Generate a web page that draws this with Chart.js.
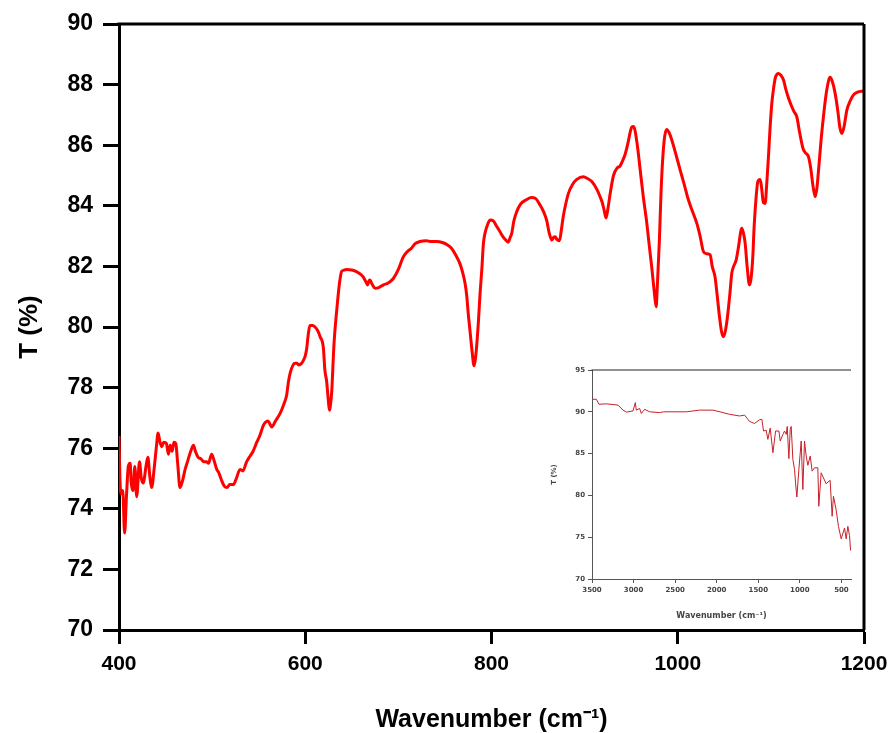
<!DOCTYPE html>
<html>
<head>
<meta charset="utf-8">
<script src="https://cdn.jsdelivr.net/npm/chart.js@4"></script>
<style>
  html, body { margin: 0; padding: 0; background: #fff; }
  #wrap { position: relative; width: 893px; height: 733px; }
  #main { position: absolute; left: 0; top: 0; }
  #inset { position: absolute; left: 540px; top: 360px; }
</style>
</head>
<body>
<div id="wrap">
  <canvas id="main" width="893" height="733"></canvas>
  <canvas id="inset" width="325" height="265"></canvas>
</div>
<script>
// ── Data: main spectrum (400–1200 cm-1) ────────────────────
const waveMain = [
  400, 401, 402, 404, 406, 408, 410, 412, 413, 415, 417, 419, 422, 424, 426, 429, 431, 433, 435, 438,
  440, 442, 444, 446, 448, 451, 453, 455, 457, 459, 461, 463, 465.5, 468, 471, 474, 477, 480, 482, 485,
  488, 491, 494, 496, 499.5, 502, 505, 507, 510, 513, 516, 519, 523, 526, 530, 533, 537, 541, 544, 548,
  551, 555, 557, 560, 562, 564, 568, 573, 577, 580, 582, 584, 587, 589, 591, 593, 596, 598, 600, 601.6,
  603, 605, 608, 610.5, 613, 616, 619.5, 621, 623, 625, 626, 627, 628.5, 630, 631, 634.5, 637, 639, 642, 644.6,
  650, 655, 659, 662, 665, 667, 669, 670, 672, 675, 679, 684, 689, 694.6, 700, 705, 709, 714, 718, 723,
  730, 735, 741, 748, 752, 757, 762, 766, 769, 771.6, 773.5, 775, 777, 779, 781.3, 782.5, 784, 786, 787.7, 789.6,
  791.3, 793, 796, 798.5, 802, 805, 809, 813, 816, 818, 820, 821.8, 824, 827, 831, 838, 843, 847, 852, 856,
  859.4, 862, 864.8, 866.5, 868.3, 870, 873, 875, 877, 880, 882.6, 887, 891.6, 898.7, 903, 907.7, 913, 916.6, 919, 921,
  923, 925, 927.4, 931, 935, 938, 941, 943.5, 946, 950.7, 952.5, 954, 957, 959.6, 963, 966.8, 969, 972, 975, 976.8,
  978, 980.3, 982, 984, 986, 988.2, 991, 993.6, 998, 1002.6, 1007, 1011.5, 1016, 1020.5, 1024, 1027.6, 1031, 1034.8, 1037, 1040,
  1042.5, 1044.8, 1047, 1049, 1051, 1053.4, 1056, 1058, 1060, 1062.7, 1065, 1068.8, 1070.5, 1072.4, 1074.5, 1077, 1078.7, 1080.6, 1082, 1084.2,
  1086, 1088.5, 1090, 1092, 1093.9, 1095.5, 1097.4, 1099, 1101, 1103, 1105, 1108.2, 1111, 1113.6, 1116, 1119, 1122.5, 1125, 1127.8, 1131,
  1134.4, 1137, 1140.4, 1143, 1145, 1147.6, 1149.5, 1151.2, 1154, 1157, 1160, 1163.6, 1166, 1169, 1172, 1174, 1176.2, 1178.5, 1181.6, 1185,
  1188.7, 1193, 1199.5
];
const tMain = [
  76.4, 75.0, 74.5, 74.6, 73.2, 74.4, 75.4, 75.5, 74.9, 74.6, 75.4, 74.4, 75.55, 75.0, 74.85, 75.4, 75.7, 75.1, 74.7, 75.4,
  76.0, 76.5, 76.2, 76.05, 76.2, 76.15, 75.8, 76.1, 75.9, 76.2, 76.15, 75.5, 74.7, 74.9, 75.3, 75.6, 75.9, 76.1, 75.9, 75.7,
  75.65, 75.55, 75.55, 75.5, 75.8, 75.6, 75.3, 75.2, 74.95, 74.75, 74.7, 74.8, 74.8, 75.0, 75.3, 75.25, 75.55, 75.75, 75.9, 76.2,
  76.4, 76.75, 76.85, 76.9, 76.8, 76.7, 76.9, 77.15, 77.45, 77.75, 78.2, 78.5, 78.75, 78.8, 78.8, 78.75, 78.8, 78.9, 79.05, 79.3,
  79.7, 80.05, 80.05, 80.0, 79.9, 79.68, 79.3, 78.6, 78.2, 77.5, 77.25, 77.4, 77.9, 78.9, 79.5, 80.78, 81.5, 81.83, 81.88, 81.9,
  81.88, 81.83, 81.75, 81.66, 81.5, 81.39, 81.55, 81.53, 81.4, 81.28, 81.3, 81.39, 81.45, 81.6, 81.9, 82.3, 82.47, 82.6, 82.75, 82.82,
  82.85, 82.82, 82.82, 82.78, 82.72, 82.6, 82.35, 82.1, 81.8, 81.44, 81.0, 80.45, 79.85, 79.24, 78.72, 78.9, 79.35, 80.2, 81.1, 81.9,
  82.75, 83.09, 83.4, 83.53, 83.5, 83.35, 83.15, 82.95, 82.85, 82.8, 82.95, 83.1, 83.5, 83.8, 84.05, 84.21, 84.27, 84.25, 84.03, 83.8,
  83.5, 83.1, 82.87, 82.95, 82.98, 82.9, 82.85, 83.2, 83.64, 84.1, 84.41, 84.7, 84.87, 84.96, 84.9, 84.8, 84.55, 84.3, 84.1, 83.85,
  83.6, 83.9, 84.4, 85.0, 85.25, 85.31, 85.5, 85.7, 86.0, 86.6, 86.62, 86.5, 85.9, 85.2, 84.3, 83.42, 82.8, 81.99, 81.1, 80.67,
  81.3, 82.87, 84.4, 85.62, 86.3, 86.52, 86.4, 86.17, 85.7, 85.18, 84.7, 84.19, 83.8, 83.42, 83.0, 82.49, 82.42, 82.38, 82.0, 81.66,
  81.0, 80.34, 79.85, 79.68, 79.85, 80.34, 81.1, 81.77, 82.0, 82.21, 82.6, 83.26, 83.1, 82.76, 82.0, 81.39, 81.6, 82.32, 83.3, 84.3,
  84.8, 84.87, 84.6, 84.1, 84.08, 84.7, 85.62, 86.5, 87.38, 87.9, 88.25, 88.37, 88.3, 88.15, 87.85, 87.55, 87.27, 87.1, 86.94, 86.4,
  85.9, 85.75, 85.62, 85.2, 84.7, 84.3, 84.6, 85.18, 86.2, 87.1, 87.82, 88.24, 88.1, 87.71, 87.1, 86.6, 86.39, 86.6, 87.16, 87.45,
  87.66, 87.75, 87.79
];
const xTicksMain = [400, 600, 800, 1000, 1200];
const yTicksMain = [70, 72, 74, 76, 78, 80, 82, 84, 86, 88, 90];

// ── Data: inset, full range (3500–400 cm-1) ────────────────
const waveInset = [
  3500, 3448, 3416, 3328, 3187, 3127, 3087, 3007, 2979, 2967, 2927, 2907, 2867, 2807, 2687, 2639, 2366, 2206, 2046, 1946,
  1846, 1725, 1665, 1605, 1545, 1485, 1457, 1437, 1405, 1385, 1357, 1324, 1292, 1252, 1236, 1204, 1184, 1164, 1152, 1132,
  1116, 1104, 1084, 1064, 1052, 1036, 1012, 984, 964, 944, 924, 904, 876, 852, 824, 784, 772, 744, 684, 636,
  612, 596, 564, 536, 503, 463, 443, 423, 403, 390
];
const tInset = [
  91.5, 91.5, 90.9, 90.95, 90.8, 90.2, 89.96, 90.1, 91.1, 90.2, 90.4, 89.8, 90.3, 90.0, 89.9, 90.0, 90.0, 90.2, 90.2, 89.96,
  89.7, 89.5, 89.6, 88.85, 88.6, 89.05, 89.1, 87.7, 87.8, 86.7, 88.05, 85.1, 87.7, 87.7, 86.5, 87.3, 87.7, 87.3, 88.25, 84.4,
  87.9, 88.25, 84.3, 83.1, 81.5, 79.8, 83.1, 86.5, 80.7, 86.5, 84.7, 83.6, 84.7, 82.9, 83.3, 83.3, 78.7, 82.7, 81.4, 81.8,
  77.5, 79.9, 78.3, 76.3, 74.8, 76.1, 74.8, 76.3, 75.2, 73.4
];
const xTicksInset = [3500, 3000, 2500, 2000, 1500, 1000, 500];
const yTicksInset = [70, 75, 80, 85, 90, 95];

// ── Helpers ────────────────────────────────────────────────
function toPoints(xs, ys) {
  return xs.map((x, i) => ({ x, y: ys[i] }));
}

function fixTicks(values) {
  return (scale) => { scale.ticks = values.map((v) => ({ value: v })); };
}

const plain = (v) => String(v); // no thousands separator

// draws the remaining sides of the frame
function frame(width, color, sides) {
  return {
    id: "frame",
    afterDraw(chart) {
      const { ctx, chartArea: a } = chart;
      ctx.save();
      ctx.strokeStyle = color;
      ctx.lineWidth = width;
      ctx.beginPath();
      if (sides.includes("top"))   { ctx.moveTo(a.left - width / 2, a.top); ctx.lineTo(a.right, a.top); }
      if (sides.includes("right")) { ctx.moveTo(a.right, a.top); ctx.lineTo(a.right, a.bottom); }
      ctx.stroke();
      ctx.restore();
    },
  };
}

const BOLD = "'Liberation Sans', Arial, sans-serif";
const SMALL = "'DejaVu Sans', Verdana, sans-serif";

// ── Main chart ─────────────────────────────────────────────
new Chart(document.getElementById("main"), {
  type: "line",
  data: {
    datasets: [{
      data: toPoints(waveMain, tMain),
      borderColor: "#ff0000",
      borderWidth: 3,
      pointRadius: 0,
      cubicInterpolationMode: "monotone",
      fill: false,
    }],
  },
  options: {
    responsive: false,
    animation: false,
    events: [],
    layout: { padding: { top: 24, right: 29, left: 0, bottom: 0 } },
    plugins: { legend: { display: false }, tooltip: { enabled: false } },
    scales: {
      x: {
        type: "linear",
        min: 400, max: 1200,
        afterBuildTicks: fixTicks(xTicksMain),
        afterFit: (s) => { s.height = 103; s.paddingLeft = 0; s.paddingRight = 0; },
        border: { color: "#000", width: 3 },
        grid: { drawOnChartArea: false, drawTicks: true, tickLength: 14, tickColor: "#000", tickWidth: 3 },
        ticks: { color: "#000", padding: 8, callback: plain, font: { family: BOLD, size: 21, weight: "bold" } },
        title: {
          display: true, text: "Wavenumber (cm⁻¹)", color: "#000",
          font: { family: BOLD, size: 25, weight: "bold" }, padding: { top: 0, bottom: -2 },
        },
      },
      y: {
        min: 70, max: 90,
        afterBuildTicks: fixTicks(yTicksMain),
        afterFit: (s) => { s.width = 119; },
        border: { color: "#000", width: 3 },
        grid: { drawOnChartArea: false, drawTicks: true, tickLength: 16, tickColor: "#000", tickWidth: 3 },
        ticks: { color: "#000", padding: 10, callback: plain, font: { family: BOLD, size: 23, weight: "bold" } },
        title: {
          display: true, text: "T (%)", color: "#000",
          font: { family: BOLD, size: 26, weight: "bold" }, padding: { top: 14, bottom: 12 },
        },
      },
    },
  },
  plugins: [frame(3, "#000", ["top", "right"])],
});

// ── Inset chart ────────────────────────────────────────────
new Chart(document.getElementById("inset"), {
  type: "line",
  data: {
    datasets: [{
      data: toPoints(waveInset, tInset),
      borderColor: "#c8202a",
      borderWidth: 1,
      pointRadius: 0,
      tension: 0,
      fill: false,
    }],
  },
  options: {
    responsive: false,
    animation: false,
    events: [],
    layout: { padding: { top: 10, right: 14, left: 0, bottom: 0 } },
    plugins: { legend: { display: false }, tooltip: { enabled: false } },
    scales: {
      x: {
        type: "linear",
        reverse: true,
        min: 385, max: 3500,
        afterBuildTicks: fixTicks(xTicksInset),
        afterFit: (s) => { s.height = 46; s.paddingLeft = 0; s.paddingRight = 0; },
        border: { color: "#555", width: 1 },
        grid: { drawOnChartArea: false, drawTicks: true, tickLength: 4, tickColor: "#555" },
        ticks: { color: "#444", padding: 3, callback: plain, font: { family: SMALL, size: 7, weight: "bold" } },
        title: {
          display: true, text: "Wavenumber (cm⁻¹)", color: "#444",
          font: { family: SMALL, size: 8, weight: "bold" }, padding: { top: 8 },
        },
      },
      y: {
        min: 70, max: 95,
        afterBuildTicks: fixTicks(yTicksInset),
        afterFit: (s) => { s.width = 52; },
        border: { color: "#555", width: 1 },
        grid: { drawOnChartArea: false, drawTicks: true, tickLength: 4, tickColor: "#555" },
        ticks: { color: "#444", padding: 3, callback: plain, font: { family: SMALL, size: 7, weight: "bold" } },
        title: {
          display: true, text: "T (%)", color: "#444",
          font: { family: SMALL, size: 7, weight: "bold" }, padding: { top: 10, bottom: 10 },
        },
      },
    },
  },
  plugins: [frame(1, "#222", ["top"])],
});
</script>
</body>
</html>
